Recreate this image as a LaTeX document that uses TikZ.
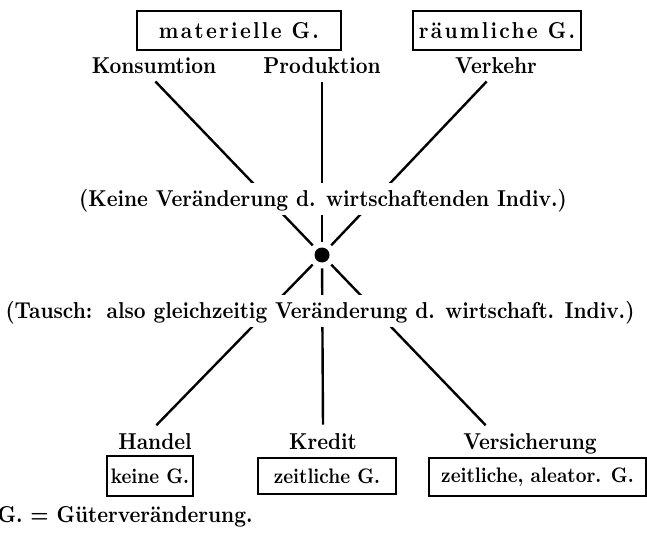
\documentclass[tikz,border=0pt]{standalone}
\usepackage{fontspec}
\setmainfont{lmroman10}[Extension=.otf, UprightFont=*-regular, BoldFont=*-bold, FakeStretch=0.89]
\usepackage{tikz}
\usetikzlibrary{calc}

\begin{document}
\begin{tikzpicture}[x=0.5pt, y=-0.5pt,
		wort/.style={font=\fontsize{11.5}{14}\selectfont\bfseries, inner sep=3pt},
		gbox/.style={draw, line width=1.3pt, inner sep=0pt},
		zeile/.style={font=\fontsize{11.5}{14}\selectfont\bfseries, fill=white, inner xsep=0pt, inner ysep=1.5pt, text height=10pt, text depth=3pt},
		speiche/.style={line width=1.2pt, shorten <=2.75pt, shorten >=1pt}]
					\def\obase{73.5};
					\def\ubase{449};
					
					\useasboundingbox (0,0) rectangle (647,534);
					
					\begin{scope}[font=\fontsize{11.5}{14}\selectfont\bfseries\addfontfeatures{LetterSpace=10}]
						\node [gbox, minimum width=102pt, minimum height=19.5pt] (materiell) at (239,30.5) {materielle G.};
						\node [gbox, minimum width=84pt, minimum height=19.5pt] (raeumlich) at (497,30.5) {räumliche G.};
					\end{scope}
					
					\begin{scope}
						\node [wort, anchor=base] (konsum) at (154,\obase) {Konsumtion};
						\node [wort, anchor=base] (produkt) at (322,\obase) {Produktion};
						\node [wort, anchor=base] (verkehr) at (496,\obase) {Verkehr};
						
						\node [wort, anchor=base] (handel) at (155,\ubase) {Handel};
						\node [wort, anchor=base] (kredit) at (323,\ubase) {Kredit};
						\node [wort, anchor=base] (versich) at (530,\ubase) {Versicherung};
					\end{scope}
					
					\begin{scope}[font=\fontsize{10.5}{13}\selectfont\bfseries]
						\node [gbox, minimum width=43pt, minimum height=20pt] (keineg) at (150,476) {keine G.};
						\node [gbox, minimum width=69pt, minimum height=18pt] (zeitg) at (327,476) {zeitliche G.};
						\node [gbox, minimum width=108.5pt, minimum height=19pt] (aleag) at (537.5,477) {zeitliche, aleator. G.};
					\end{scope}
					
					\node [circle, fill, inner sep=0pt, minimum size=7.5pt] (punkt) at (322,255) {};
					
					\begin{scope}
						\draw [speiche] (punkt) -- (konsum.south);
						\draw [speiche] (punkt) -- (produkt.south);
						\draw [speiche] (punkt) -- ([xshift=-4pt]verkehr.south);
						\draw [speiche] (punkt) -- (handel.north);
						\draw [speiche] (punkt) -- (kredit.north);
						\draw [speiche] (punkt) -- ([xshift=-21.5pt]versich.north);
					\end{scope}
					
					\node [zeile, anchor=base] (keine) at (323,206) {(Keine Veränderung d. wirtschaftenden Indiv.)};
					\node [zeile, anchor=base] (tausch) at (320,318) {(Tausch:\, also gleichzeitig Veränderung d. wirtschaft. Indiv.)};
					
					\node [wort, anchor=base east, inner sep=0pt] (fussnote) at (253,522) {G. = Güterveränderung.};
				\end{tikzpicture}
\end{document}
